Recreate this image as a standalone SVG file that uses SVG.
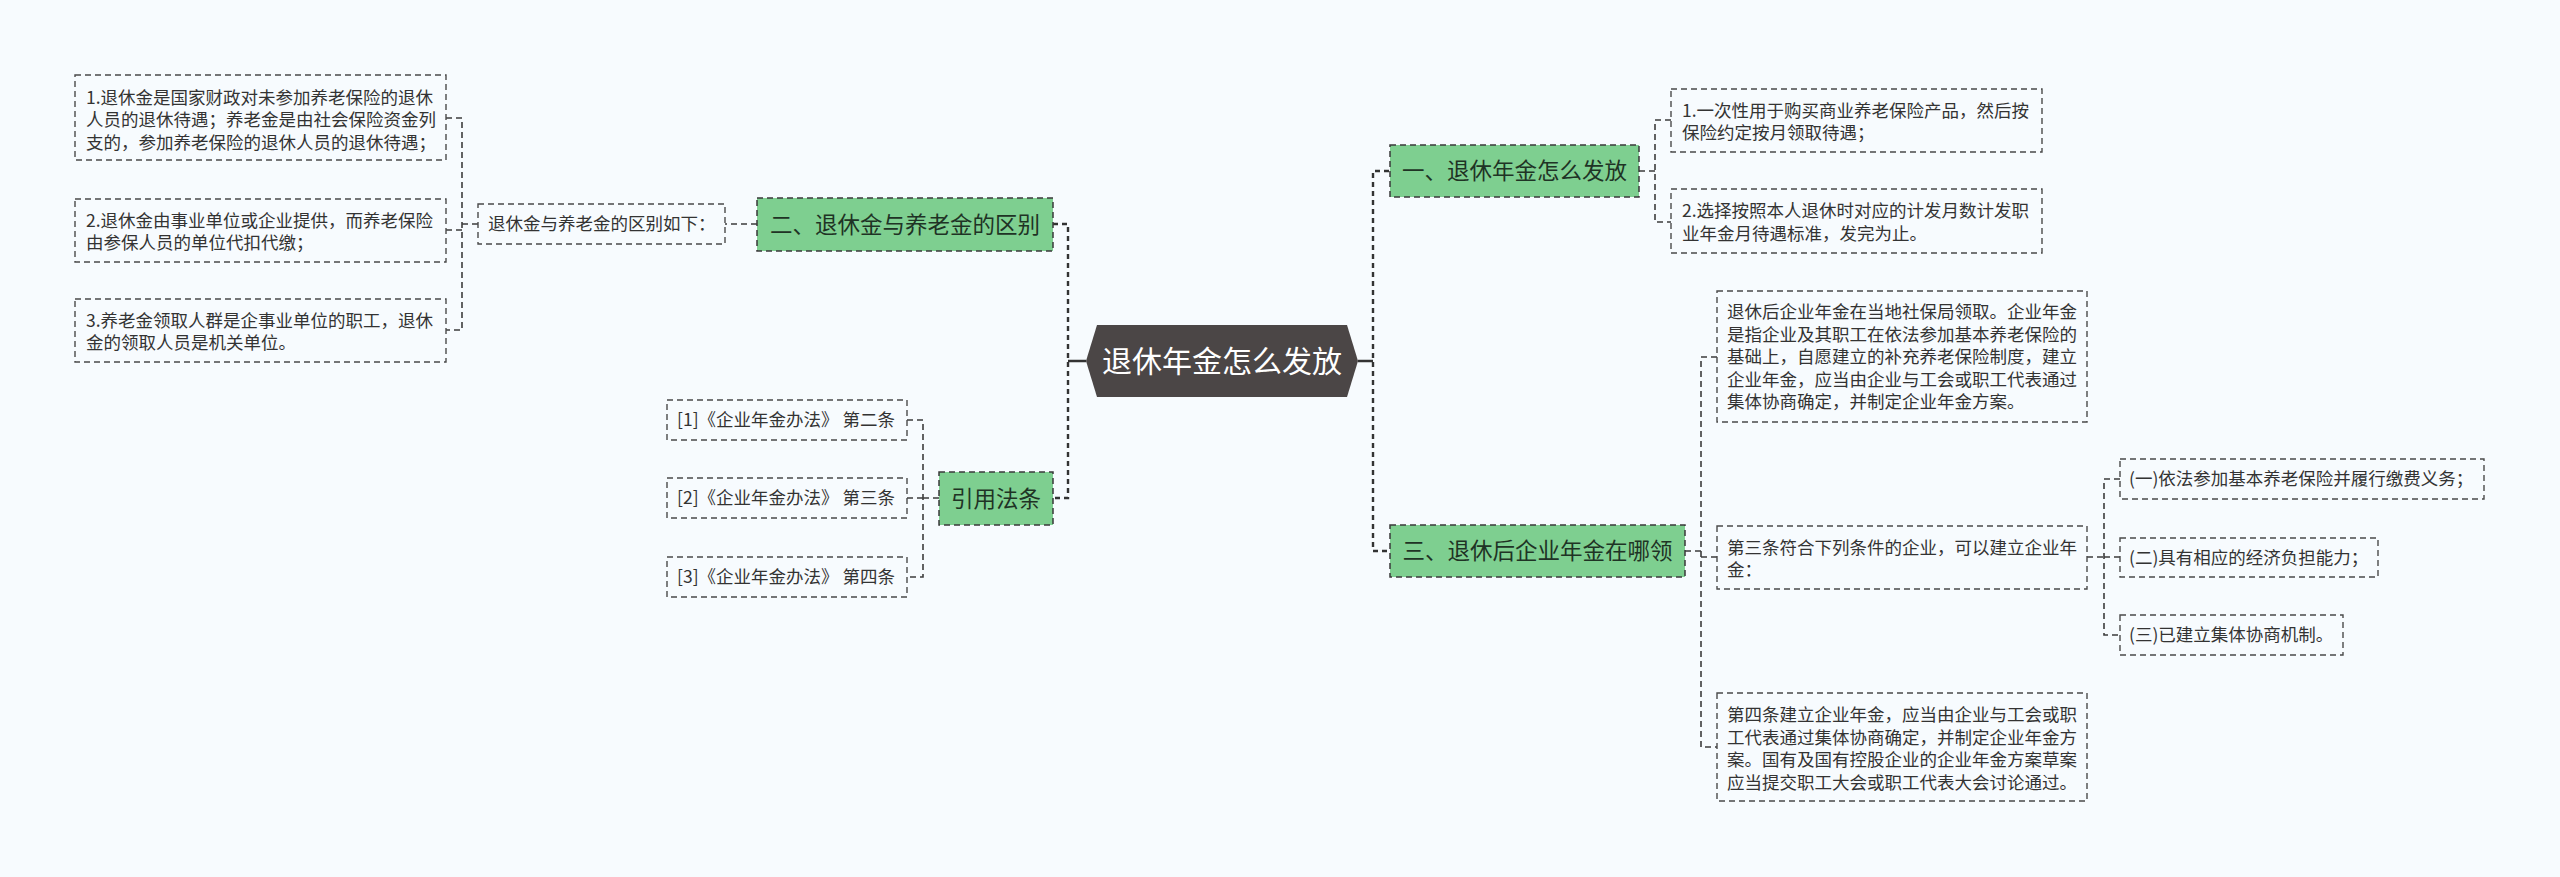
<svg xmlns="http://www.w3.org/2000/svg" width="2560" height="877" viewBox="0 0 2560 877">
<style>
.bg{fill:#f7fbfe}
.leaf{fill:#f7fbfe;stroke:#4a4a4a;stroke-width:1.4;stroke-dasharray:6 4}
.main{fill:#7ecf90;stroke:#3a3a3a;stroke-width:1.5;stroke-dasharray:6 4}
.conn{fill:none;stroke:#3c3c3c;stroke-width:1.6;stroke-dasharray:6 4}
.thick{fill:none;stroke:#333;stroke-width:2.4;stroke-dasharray:5 4}
.solid{fill:none;stroke:#333;stroke-width:2.4}
.t{font-family:"Noto Sans CJK SC","Noto Sans",sans-serif;font-size:17.5px;fill:#333}
.mt{font-family:"Noto Sans CJK SC","Noto Sans",sans-serif;font-size:22.5px;fill:#1f3325;text-anchor:middle}
.ct{font-family:"Noto Sans CJK SC","Noto Sans",sans-serif;font-size:30px;fill:#ffffff;text-anchor:middle}
</style>
<rect class="bg" x="0" y="0" width="2560" height="877"/>
<g id="connectors">
<path class="solid" d="M1086,361 H1068 M1358,361 H1373"/>
<path class="thick" d="M1053,224 H1068 V498 H1053"/>
<path class="thick" d="M1389,171 H1373 V551 H1389"/>
<path class="conn" d="M1639,171 H1655 M1671,120 H1655 V222 H1671"/>
<path class="conn" d="M1685,551 H1701 M1717,357 H1701 V747 H1717 M1701,557 H1717"/>
<path class="conn" d="M2087,557 H2104 M2120,479 H2104 V635 H2120 M2104,557 H2120"/>
<path class="conn" d="M757,224 H725"/>
<path class="conn" d="M478,224 H462 M446,118 H462 V330 H446 M462,230 H446"/>
<path class="conn" d="M939,498 H923 M907,420 H923 V577 H907 M923,498 H907"/>
</g>
<g id="center">
<polygon points="1086,361 1097,325 1347,325 1358,361 1347,397 1097,397" fill="#4b4646"/>
<text class="ct" x="1222" y="371.5">退休年金怎么发放</text>
</g>
<g id="n2">
<rect class="main" x="757" y="198" width="296" height="53"/>
<text class="mt" x="905" y="232.5">二、退休金与养老金的区别</text>
</g>
<g id="n2a">
<rect class="leaf" x="478" y="204" width="247" height="40"/>
<text class="t" x="488" y="230">退休金与养老金的区别如下：</text>
</g>
<g id="n2a1">
<rect class="leaf" x="75" y="75" width="371" height="85"/>
<text class="t" x="86" y="103.5">1.退休金是国家财政对未参加养老保险的退休</text>
<text class="t" x="86" y="126">人员的退休待遇；养老金是由社会保险资金列</text>
<text class="t" x="86" y="148.5">支的，参加养老保险的退休人员的退休待遇；</text>
</g>
<g id="n2a2">
<rect class="leaf" x="75" y="199" width="371" height="63"/>
<text class="t" x="86" y="226.5">2.退休金由事业单位或企业提供，而养老保险</text>
<text class="t" x="86" y="249">由参保人员的单位代扣代缴；</text>
</g>
<g id="n2a3">
<rect class="leaf" x="75" y="299" width="371" height="63"/>
<text class="t" x="86" y="326.5">3.养老金领取人群是企事业单位的职工，退休</text>
<text class="t" x="86" y="349">金的领取人员是机关单位。</text>
</g>
<g id="n4">
<rect class="main" x="939" y="472" width="114" height="53"/>
<text class="mt" x="996" y="506.5">引用法条</text>
</g>
<g id="n4a">
<rect class="leaf" x="667" y="400" width="240" height="40"/>
<text class="t" x="677" y="426">[1]《企业年金办法》 第二条</text>
</g>
<g id="n4b">
<rect class="leaf" x="667" y="478" width="240" height="40"/>
<text class="t" x="677" y="504">[2]《企业年金办法》 第三条</text>
</g>
<g id="n4c">
<rect class="leaf" x="667" y="557" width="240" height="40"/>
<text class="t" x="677" y="583">[3]《企业年金办法》 第四条</text>
</g>
<g id="n1">
<rect class="main" x="1390" y="145" width="249" height="52"/>
<text class="mt" x="1514.5" y="179">一、退休年金怎么发放</text>
</g>
<g id="n1a">
<rect class="leaf" x="1671" y="89" width="371" height="63"/>
<text class="t" x="1682" y="116.5">1.一次性用于购买商业养老保险产品，然后按</text>
<text class="t" x="1682" y="139">保险约定按月领取待遇；</text>
</g>
<g id="n1b">
<rect class="leaf" x="1671" y="189" width="371" height="64"/>
<text class="t" x="1682" y="217">2.选择按照本人退休时对应的计发月数计发职</text>
<text class="t" x="1682" y="239.5">业年金月待遇标准，发完为止。</text>
</g>
<g id="n3">
<rect class="main" x="1390" y="525" width="295" height="52"/>
<text class="mt" x="1537.5" y="559">三、退休后企业年金在哪领</text>
</g>
<g id="n3a">
<rect class="leaf" x="1717" y="291" width="370" height="131"/>
<text class="t" x="1727" y="318">退休后企业年金在当地社保局领取。企业年金</text>
<text class="t" x="1727" y="340.5">是指企业及其职工在依法参加基本养老保险的</text>
<text class="t" x="1727" y="363">基础上，自愿建立的补充养老保险制度，建立</text>
<text class="t" x="1727" y="385.5">企业年金，应当由企业与工会或职工代表通过</text>
<text class="t" x="1727" y="408">集体协商确定，并制定企业年金方案。</text>
</g>
<g id="n3b">
<rect class="leaf" x="1717" y="526" width="370" height="63"/>
<text class="t" x="1727" y="553.5">第三条符合下列条件的企业，可以建立企业年</text>
<text class="t" x="1727" y="576">金：</text>
</g>
<g id="n3b1">
<rect class="leaf" x="2120" y="459" width="364" height="40"/>
<text class="t" x="2129" y="485">(一)依法参加基本养老保险并履行缴费义务；</text>
</g>
<g id="n3b2">
<rect class="leaf" x="2120" y="538" width="258" height="39"/>
<text class="t" x="2129" y="563.5">(二)具有相应的经济负担能力；</text>
</g>
<g id="n3b3">
<rect class="leaf" x="2120" y="615" width="223" height="40"/>
<text class="t" x="2129" y="641">(三)已建立集体协商机制。</text>
</g>
<g id="n3c">
<rect class="leaf" x="1717" y="693" width="370" height="108"/>
<text class="t" x="1727" y="721">第四条建立企业年金，应当由企业与工会或职</text>
<text class="t" x="1727" y="743.5">工代表通过集体协商确定，并制定企业年金方</text>
<text class="t" x="1727" y="766">案。国有及国有控股企业的企业年金方案草案</text>
<text class="t" x="1727" y="788.5">应当提交职工大会或职工代表大会讨论通过。</text>
</g>
</svg>
